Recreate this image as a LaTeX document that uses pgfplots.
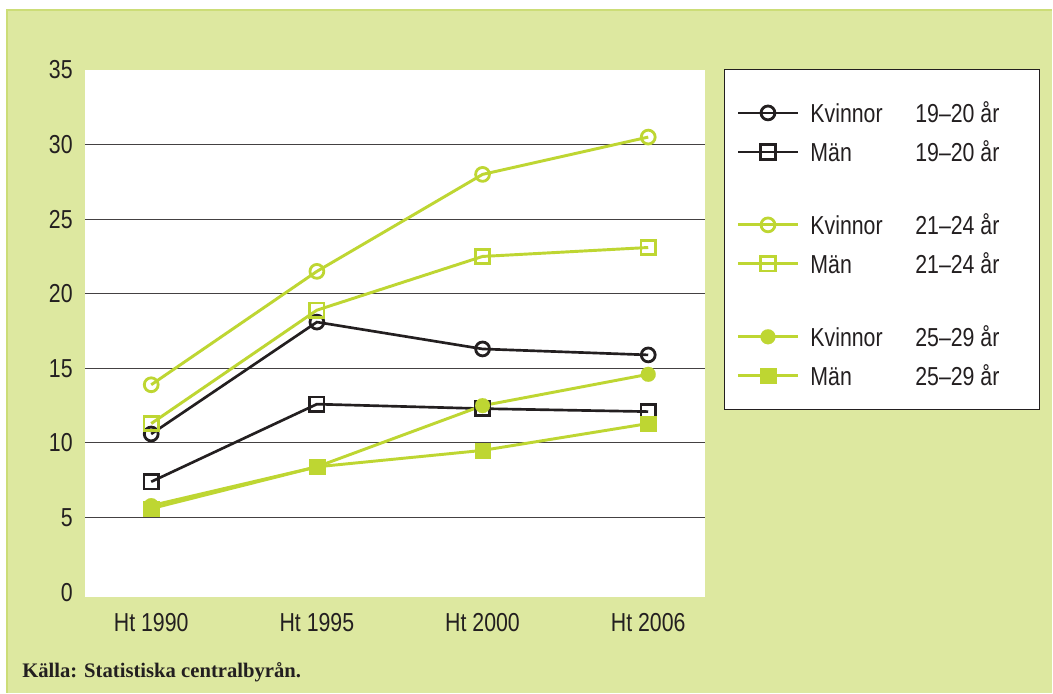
\documentclass[border=0pt]{standalone}
\usepackage{pgfplots}
\pgfplotsset{compat=1.18}
\usepackage{fontspec}
\setmainfont{Liberation Sans}[FakeStretch=0.82]
\newfontfamily\srcfont{Liberation Serif}
\definecolor{bg}{HTML}{DDE8A0}
\definecolor{bgline}{HTML}{CCDD77}
\definecolor{lg}{HTML}{BED632}
\definecolor{dk}{HTML}{231F20}
\newcommand{\lgs}{\rule[-7.625pt]{0pt}{29.25pt}}
\pgfplotsset{
  bko/.style={dk, line width=2pt, mark=o, mark size=5.2pt, mark options={fill=white, line width=2.1pt}},
  bks/.style={dk, line width=2pt, mark=square, mark size=5.4pt, mark options={fill=white, line width=2.1pt}},
  gno/.style={lg, line width=2.2pt, mark=o, mark size=5.2pt, mark options={fill=white, line width=2.1pt}},
  gns/.style={lg, line width=2.2pt, mark=square, mark size=5.4pt, mark options={fill=white, line width=2.1pt}},
  gfo/.style={lg, line width=2.2pt, mark=*, mark size=5.6pt, mark options={fill=lg, draw=lg, line width=0.1pt}},
  gfs/.style={lg, line width=2.2pt, mark=square*, mark size=5.8pt, mark options={fill=lg, draw=lg, line width=0.1pt}},
}
\begin{document}
\begin{tikzpicture}
\begin{scope}[x=0.75pt,y=0.75pt]
\fill[white] (0,0) rectangle (1053,693);
\fill[bg] (7,0) rectangle (1053,683);
\draw[bgline, line width=1pt] (7,0) -- (7,683) -- (1053,683);
\fill[white] (725,283) rectangle (1040,623);
\draw[dk, line width=0.8pt] (725,283) rectangle (1040,623);
\node[anchor=base west, inner sep=0pt, text=dk] at (22,15) {\srcfont\bfseries\fontsize{15.5}{18}\selectfont Källa: Statistiska centralbyrån.};
\end{scope}
\begin{axis}[
  at={(63.75pt,72pt)}, anchor=south west,
  width=465pt, height=395.25pt, scale only axis,
  axis background/.style={fill=white},
  xmin=-0.4, xmax=3.34, ymin=-0.3, ymax=35,
  axis line style={draw=none},
  major tick length=0pt,
  xtick={0,1,2,3},
  xticklabels={Ht 1990,Ht 1995,Ht 2000,Ht 2006},
  ytick={5,10,...,30},
  extra y ticks={0,35},
  extra y tick style={grid=none},
  ymajorgrids,
  grid style={dk!85, line width=0.75pt},
  tick label style={font=\fontsize{19.5}{22}\selectfont, text=dk},
  /pgf/number format/assume math mode=true,
  yticklabel style={anchor=east, inner sep=0pt, xshift=-9pt},
  xticklabel style={anchor=north, inner sep=0pt, yshift=-12pt},
  legend style={at={(1.0516,0.9554)}, anchor=north west, draw=none, fill=none,
    inner sep=0pt, outer sep=0pt, row sep=0pt, column sep=8.25pt,
    nodes={inner sep=0pt, text depth={}},
    font=\fontsize{19.5}{22}\selectfont, text=dk},
  legend cell align=left,
  legend image code/.code={\draw[mark repeat=2,mark phase=2] plot coordinates {(0pt,0pt) (22.5pt,0pt) (45pt,0pt)};},
]
\addplot[bko, forget plot] coordinates {(0,10.6) (1,18.1) (2,16.3) (3,15.9)};
\addplot[bks, forget plot] coordinates {(0,7.4) (1,12.6) (2,12.3) (3,12.1)};
\addplot[gfo, forget plot] coordinates {(0,5.8) (1,8.4) (2,12.5) (3,14.6)};
\addplot[gfs, forget plot] coordinates {(0,5.6) (1,8.4) (2,9.5) (3,11.3)};
\addplot[gno, forget plot] coordinates {(0,13.9) (1,21.5) (2,28.0) (3,30.5)};
\addplot[gns, forget plot] coordinates {(0,11.3) (1,18.9) (2,22.5) (3,23.1)};
\addlegendimage{bko}
\addlegendentry{\lgs\makebox[78.75pt][l]{Kvinnor}19–20 år}
\addlegendimage{bks}
\addlegendentry{\lgs\makebox[78.75pt][l]{Män}19–20 år}
\addlegendimage{empty legend}
\addlegendentry{\rule{0pt}{25.5pt}}
\addlegendimage{gno}
\addlegendentry{\lgs\makebox[78.75pt][l]{Kvinnor}21–24 år}
\addlegendimage{gns}
\addlegendentry{\lgs\makebox[78.75pt][l]{Män}21–24 år}
\addlegendimage{empty legend}
\addlegendentry{\rule{0pt}{25.5pt}}
\addlegendimage{gfo}
\addlegendentry{\lgs\makebox[78.75pt][l]{Kvinnor}25–29 år}
\addlegendimage{gfs}
\addlegendentry{\lgs\makebox[78.75pt][l]{Män}25–29 år}
\end{axis}
\end{tikzpicture}
\end{document}
